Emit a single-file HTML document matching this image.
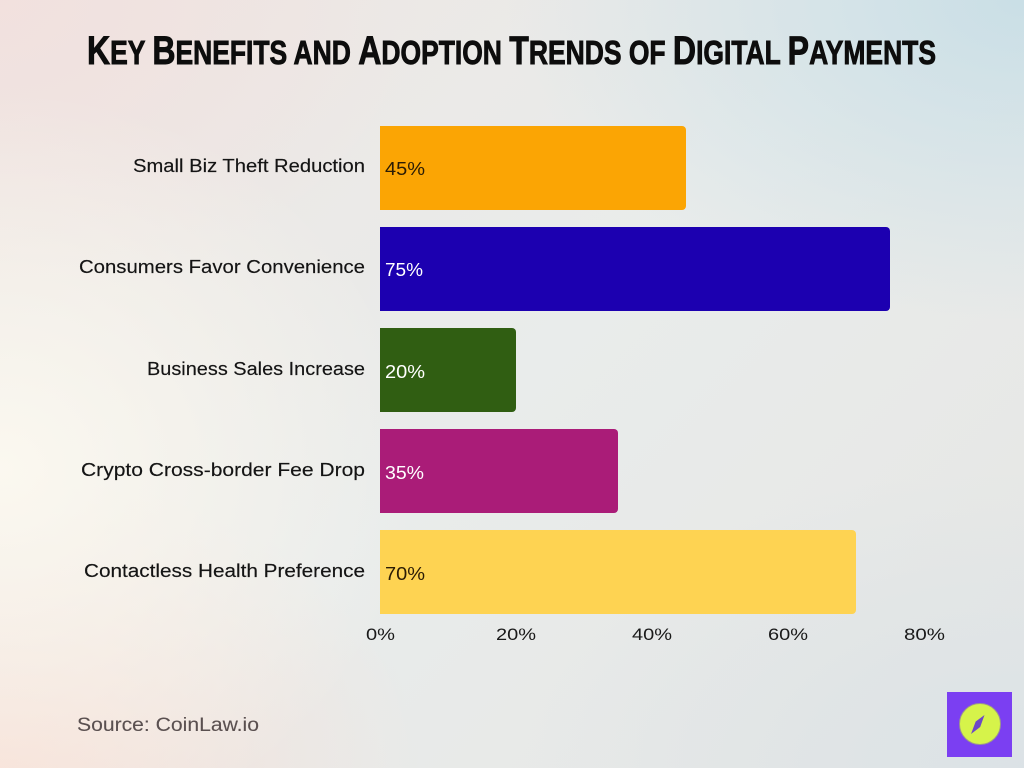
<!DOCTYPE html>
<html>
<head>
<meta charset="utf-8">
<style>
  html, body { margin:0; padding:0; }
  body { width:1024px; height:768px; overflow:hidden; position:relative; }
  .bg {
    position:absolute; left:0; top:0; width:1024px; height:768px;
    background:
      radial-gradient(ellipse 420px 380px at 0px 470px, rgba(252,249,240,0.95), rgba(252,249,240,0) 100%),
      radial-gradient(ellipse 520px 320px at 1024px 0px, rgba(200,222,230,0.95), rgba(200,222,230,0) 100%),
      radial-gradient(ellipse 420px 300px at 0px 768px, rgba(248,222,212,0.9), rgba(248,222,212,0) 100%),
      radial-gradient(ellipse 420px 300px at 0px 0px, rgba(242,224,222,0.9), rgba(242,224,222,0) 100%),
      radial-gradient(ellipse 500px 300px at 1024px 768px, rgba(218,226,230,0.9), rgba(218,226,230,0) 100%),
      linear-gradient(135deg, #eee6e2 0%, #e9eceb 50%, #e6e6e4 100%);
  }
  svg { position:absolute; left:0; top:0; }
  .cat { font-family:"Liberation Sans", sans-serif; font-size:18px; fill:#141414; stroke:#141414; stroke-width:0.15; }
  .val { font-family:"Liberation Sans", sans-serif; font-size:18px; }
  .ax { font-family:"Liberation Sans", sans-serif; font-size:17px; fill:#1a1a1a; }
</style>
</head>
<body>
<div class="bg"></div>
<svg width="1024" height="768" viewBox="0 0 1024 768" xmlns="http://www.w3.org/2000/svg">
  <!-- Title -->
  <text x="87" y="64" textLength="849" lengthAdjust="spacingAndGlyphs"
        font-family="'Liberation Sans Narrow','Liberation Sans',sans-serif" font-weight="bold" fill="#0d0d0d" stroke="#0d0d0d" stroke-width="0.9"><tspan font-size="40">K</tspan><tspan font-size="33">EY </tspan><tspan font-size="40">B</tspan><tspan font-size="33">ENEFITS AND </tspan><tspan font-size="40">A</tspan><tspan font-size="33">DOPTION </tspan><tspan font-size="40">T</tspan><tspan font-size="33">RENDS OF </tspan><tspan font-size="40">D</tspan><tspan font-size="33">IGITAL </tspan><tspan font-size="40">P</tspan><tspan font-size="33">AYMENTS</tspan></text>

  <!-- Bars -->
  <path d="M380 126 H682 a4 4 0 0 1 4 4 V206 a4 4 0 0 1 -4 4 H380 Z" fill="#fba504"/>
  <path d="M380 227 H886 a4 4 0 0 1 4 4 V307 a4 4 0 0 1 -4 4 H380 Z" fill="#1c00b0"/>
  <path d="M380 328 H512 a4 4 0 0 1 4 4 V408 a4 4 0 0 1 -4 4 H380 Z" fill="#305e12"/>
  <path d="M380 429 H614 a4 4 0 0 1 4 4 V509 a4 4 0 0 1 -4 4 H380 Z" fill="#aa1c78"/>
  <path d="M380 530 H852 a4 4 0 0 1 4 4 V610 a4 4 0 0 1 -4 4 H380 Z" fill="#fed352"/>

  <!-- Value labels -->
  <text class="val" x="385" y="175" fill="#2b1c05" textLength="40" lengthAdjust="spacingAndGlyphs">45%</text>
  <text class="val" x="385" y="276" fill="#ffffff" textLength="38" lengthAdjust="spacingAndGlyphs">75%</text>
  <text class="val" x="385" y="378" fill="#ffffff" textLength="40" lengthAdjust="spacingAndGlyphs">20%</text>
  <text class="val" x="385" y="479" fill="#ffffff" textLength="39" lengthAdjust="spacingAndGlyphs">35%</text>
  <text class="val" x="385" y="580" fill="#2b1c05" textLength="40" lengthAdjust="spacingAndGlyphs">70%</text>

  <!-- Category labels -->
  <text class="cat" x="133" y="172" textLength="232" lengthAdjust="spacingAndGlyphs">Small Biz Theft Reduction</text>
  <text class="cat" x="79" y="273" textLength="286" lengthAdjust="spacingAndGlyphs">Consumers Favor Convenience</text>
  <text class="cat" x="147" y="375" textLength="218" lengthAdjust="spacingAndGlyphs">Business Sales Increase</text>
  <text class="cat" x="81" y="476" textLength="284" lengthAdjust="spacingAndGlyphs">Crypto Cross-border Fee Drop</text>
  <text class="cat" x="84" y="577" textLength="281" lengthAdjust="spacingAndGlyphs">Contactless Health Preference</text>

  <!-- Axis ticks -->
  <text class="ax" x="366" y="640" textLength="29" lengthAdjust="spacingAndGlyphs">0%</text>
  <text class="ax" x="496" y="640" textLength="40" lengthAdjust="spacingAndGlyphs">20%</text>
  <text class="ax" x="632" y="640" textLength="40" lengthAdjust="spacingAndGlyphs">40%</text>
  <text class="ax" x="768" y="640" textLength="40" lengthAdjust="spacingAndGlyphs">60%</text>
  <text class="ax" x="904" y="640" textLength="41" lengthAdjust="spacingAndGlyphs">80%</text>

  <!-- Source -->
  <text x="77" y="731" font-family="'Liberation Sans',sans-serif" font-size="19" fill="#5a5050" stroke="#5a5050" stroke-width="0.1" textLength="182" lengthAdjust="spacingAndGlyphs">Source: CoinLaw.io</text>

  <!-- Logo -->
  <rect x="947" y="692" width="65" height="65" fill="#7b3ff2"/>
  <circle cx="980" cy="724" r="20.5" fill="#d6f34a" stroke="#9c9a88" stroke-width="1"/>
  <polygon points="971,734 975.7,721.5 984.5,715 980.2,727" fill="#6d48c8"/>
</svg>
</body>
</html>
